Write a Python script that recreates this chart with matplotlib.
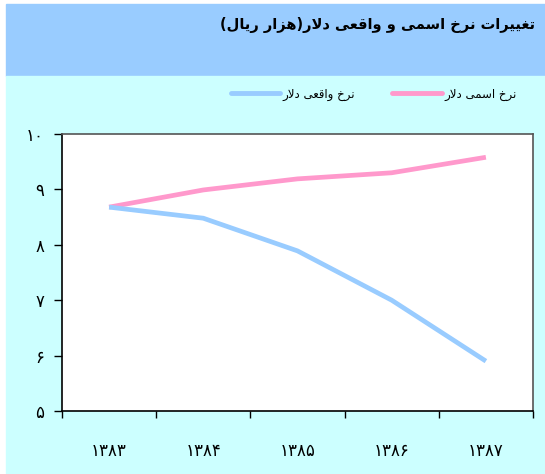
import matplotlib.pyplot as plt
from matplotlib.patches import Rectangle

# data
years = [1383, 1384, 1385, 1386, 1387]
nominal = [8.68, 8.99, 9.19, 9.30, 9.58]
real = [8.68, 8.48, 7.89, 7.00, 5.90]
yticks = [5, 6, 7, 8, 9, 10]

title = "تغییرات نرخ اسمی و واقعی دلار(هزار ریال)"
label_nominal = "نرخ اسمی دلار"
label_real = "نرخ واقعی دلار"

# presentation forms: isolated, final, initial, medial
FORMS = {
    "ا": ("\uFE8D", "\uFE8E"), "د": ("\uFEA9", "\uFEAA"),
    "ر": ("\uFEAD", "\uFEAE"), "ز": ("\uFEAF", "\uFEB0"),
    "و": ("\uFEED", "\uFEEE"),
    "ت": ("\uFE95", "\uFE96", "\uFE97", "\uFE98"),
    "خ": ("\uFEA5", "\uFEA6", "\uFEA7", "\uFEA8"),
    "س": ("\uFEB1", "\uFEB2", "\uFEB3", "\uFEB4"),
    "ع": ("\uFEC9", "\uFECA", "\uFECB", "\uFECC"),
    "غ": ("\uFECD", "\uFECE", "\uFECF", "\uFED0"),
    "ق": ("\uFED5", "\uFED6", "\uFED7", "\uFED8"),
    "ل": ("\uFEDD", "\uFEDE", "\uFEDF", "\uFEE0"),
    "م": ("\uFEE1", "\uFEE2", "\uFEE3", "\uFEE4"),
    "ن": ("\uFEE5", "\uFEE6", "\uFEE7", "\uFEE8"),
    "ه": ("\uFEE9", "\uFEEA", "\uFEEB", "\uFEEC"),
    "ی": ("\uFBFC", "\uFBFD", "\uFBFE", "\uFBFF"),
}


def fa(text):
    # shape arabic letters and put them in visual order
    out = []
    i = 0
    n = len(text)
    while i < n:
        c = text[i]
        if c not in FORMS:
            out.append(c)
            i += 1
            continue
        prev = text[i - 1] if i > 0 else ""
        jp = prev in FORMS and len(FORMS[prev]) == 4
        if c == "ل" and i + 1 < n and text[i + 1] == "ا":
            out.append("\uFEFC" if jp else "\uFEFB")
            i += 2
            continue
        nxt = text[i + 1] if i + 1 < n else ""
        jn = len(FORMS[c]) == 4 and nxt in FORMS
        f = FORMS[c]
        if jp and jn:
            out.append(f[3])
        elif jp:
            out.append(f[1])
        elif jn:
            out.append(f[2])
        else:
            out.append(f[0])
        i += 1
    s = "".join(reversed(out))
    return s.translate(str.maketrans("()", ")("))


def fa_num(v):
    return str(v).translate(str.maketrans("0123456789", "۰۱۲۳۴۵۶۷۸۹"))


plt.rcParams['font.family'] = ['DejaVu Sans']

W, H = 545, 474
fig = plt.figure(figsize=(W / 100, H / 100), dpi=100, facecolor="white")

# background panels
fig.patches.append(Rectangle((6 / W, (H - 76) / H), 1 - 6 / W, 72 / H,
                             transform=fig.transFigure, color="#99CCFF", zorder=-10))
fig.patches.append(Rectangle((6 / W, 0), 1 - 6 / W, (H - 76) / H,
                             transform=fig.transFigure, color="#CCFFFF", zorder=-10))

fig.text(535 / W, 1 - 25 / H, fa(title), ha="right", va="center",
         fontsize=10.5, fontweight="bold", color="black")

ax = fig.add_axes([62 / W, (H - 411) / H, (533 - 62) / W, (411 - 134) / H])
ax.set_zorder(1)
ax.set_facecolor("white")

x = list(range(len(years)))
ax.plot(x, nominal, color="#FF99CC", lw=3.4, solid_capstyle="butt")
ax.plot(x, real, color="#99CCFF", lw=3.4, solid_capstyle="butt")

ax.set_xlim(-0.5, len(years) - 0.5)
ax.set_ylim(5, 10)
ax.set_yticks(yticks)
ax.set_yticklabels([fa_num(v) for v in yticks], fontsize=12)
ax.set_xticks(x)
ax.set_xticklabels([fa_num(v) for v in years], fontsize=12)
ax.set_xticks([i - 0.5 for i in range(len(years) + 1)], minor=True)
ax.tick_params(axis="x", which="major", length=0, pad=22)
ax.tick_params(axis="x", which="minor", length=5, width=1)
ax.tick_params(axis="y", length=6, width=1, pad=7)

for s in ["left", "bottom"]:
    ax.spines[s].set_linewidth(1.2)
    ax.spines[s].set_color("black")
for s in ["top", "right"]:
    ax.spines[s].set_linewidth(1.2)
    ax.spines[s].set_color("#555555")

# legend drawn by hand: line at left of rtl text
leg_y = 1 - 93 / H
for x0, x1, col, lab in [(392, 442, "#FF99CC", label_nominal),
                         (231, 280, "#99CCFF", label_real)]:
    fig.add_artist(plt.Line2D([x0 / W, x1 / W], [leg_y, leg_y], color=col, lw=3.5,
                              solid_capstyle="round", transform=fig.transFigure))
    fig.text((x1 + 2) / W, leg_y - 2 / H, fa(lab), ha="left", va="center", fontsize=8.5)

fig.savefig("out.png", dpi=100, facecolor=fig.get_facecolor())
